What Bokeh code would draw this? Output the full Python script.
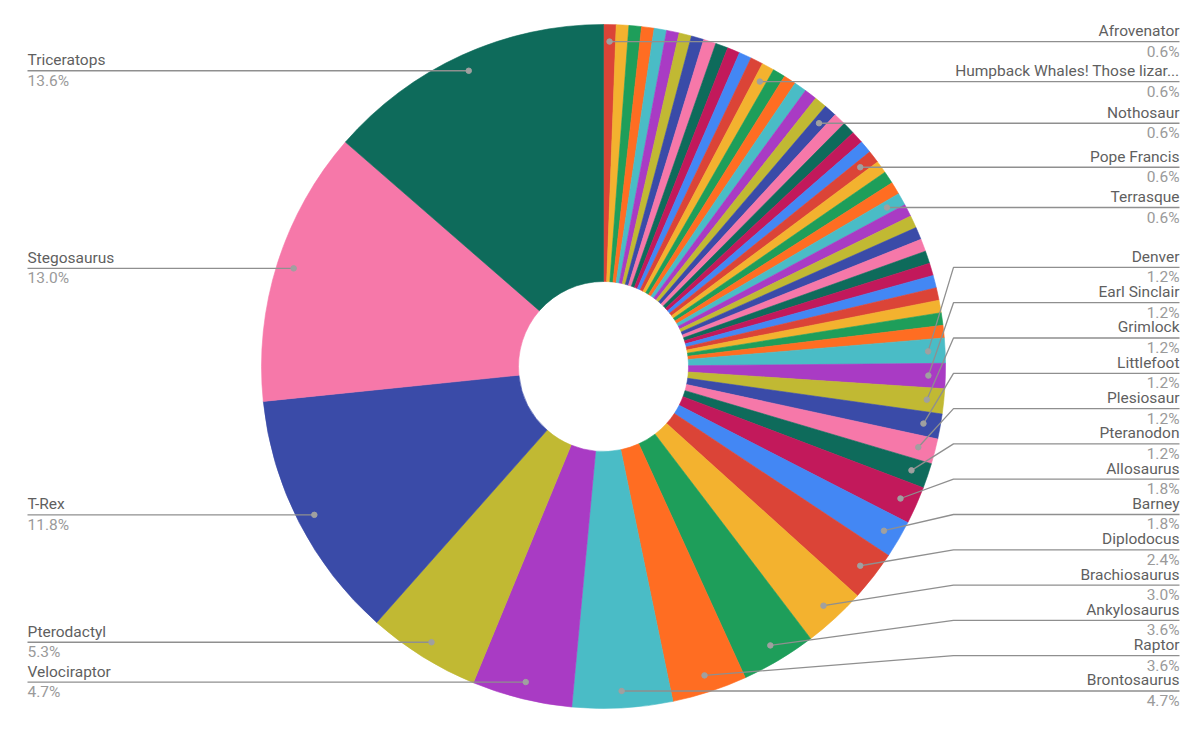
import math
from bokeh.plotting import figure
from bokeh.models import Range1d
from bokeh.embed import file_html
from bokeh.resources import INLINE
from bokeh.core.properties import value

# ---- data (sorted ascending, as in the chart) ----
names = [
    "Afrovenator", "Albertosaurus", "Amargasaurus", "Apatosaurus", "Archaeopteryx",
    "Baryonyx", "Carnotaurus", "Ceratosaurus", "Compsognathus", "Deinonychus",
    "Dilophosaurus", "Gallimimus", "Godzilla",
    "Humpback Whales! Those lizar...",
    "Iguanodon", "Kentrosaurus", "Megalosaurus", "Microraptor", "Mosasaurus",
    "Nothosaur",
    "Oviraptor", "Pachycephalosaurus", "Parasaurolophus", "Plateosaurus",
    "Pope Francis",
    "Protoceratops", "Quetzalcoatlus", "Spinosaurus",
    "Terrasque",
    "Therizinosaurus", "Thescelosaurus", "Titanosaur", "Torosaurus", "Troodon",
    "Tsintaosaurus", "Utahraptor", "Xenoceratops", "Yoshi", "Yutyrannus", "Zuniceratops",
    "Denver", "Earl Sinclair", "Grimlock", "Littlefoot", "Plesiosaur", "Pteranodon",
    "Allosaurus", "Barney", "Diplodocus", "Brachiosaurus", "Ankylosaurus", "Raptor",
    "Brontosaurus", "Velociraptor", "Pterodactyl", "T-Rex", "Stegosaurus", "Triceratops",
]
counts = [1] * 40 + [2] * 6 + [3, 3, 4, 5, 6, 6, 8, 8, 9, 20, 22, 23]

# labels that the chart actually shows
shown = [
    "Afrovenator", "Humpback Whales! Those lizar...", "Nothosaur", "Pope Francis", "Terrasque",
    "Denver", "Earl Sinclair", "Grimlock", "Littlefoot", "Plesiosaur", "Pteranodon",
    "Allosaurus", "Barney", "Diplodocus", "Brachiosaurus", "Ankylosaurus", "Raptor",
    "Brontosaurus", "Velociraptor", "Pterodactyl", "T-Rex", "Stegosaurus", "Triceratops",
]

palette = ["#4387F4", "#DB4437", "#F3B22F", "#1E9E5A", "#FF6D22", "#4ABCC6",
           "#A93BC4", "#C1B933", "#3A4BA8", "#F678A9", "#0E6B5B", "#C2195B"]

# ---- layout (pixel coordinates of the 1200x734 picture) ----
CX, CY = 603.0, 366.0
R_OUT, R_IN, R_DOT = 342.0, 85.0, 325.0
LEFT_X, RIGHT_X = 27.0, 1179.0
BEND_X = CX + R_OUT + 8
GAP = 35.3
NAME_COL, PCT_COL, LINE_COL = "#5F5F5F", "#9A9A9A", "#8F8F8F"
FONT = "Roboto"
FS = "15.5px"

W, H = 1184, 718
p = figure(width=W, height=H, x_range=Range1d(0, W), y_range=Range1d(-H, 0),
           output_backend="svg", toolbar_location=None, min_border=0,
           x_axis_location=None, y_axis_location=None)
p.grid.visible = False
p.outline_line_color = None
p.background_fill_color = "white"
p.border_fill_color = "white"

total = float(sum(counts))
starts, ends, colors, mids = [], [], [], []
cum = 0
for i, c in enumerate(counts):
    a0 = 2 * math.pi * cum / total
    a1 = 2 * math.pi * (cum + c) / total
    starts.append(math.pi / 2 - a0)
    ends.append(math.pi / 2 - a1)
    mids.append((a0 + a1) / 2)
    colors.append(palette[(i + 1) % len(palette)])
    cum += c

p.annular_wedge(x=CX, y=-CY, inner_radius=R_IN, outer_radius=R_OUT,
                start_angle=starts, end_angle=ends, direction="clock",
                fill_color=colors, line_color=colors, line_width=0.6)

# ---- labels ----
right, left = [], []
for i, n in enumerate(names):
    if n not in shown:
        continue
    m = mids[i]
    dx = CX + R_DOT * math.sin(m)
    dy = CY - R_DOT * math.cos(m)
    pct = "%.1f%%" % (100.0 * counts[i] / total)
    item = dict(name=n, pct=pct, dx=dx, dy=dy, ly=dy)
    (left if m > math.pi else right).append(item)

# right side: stack upward from the bottom
right.sort(key=lambda d: d["dy"])
for k in range(len(right) - 2, -1, -1):
    right[k]["ly"] = min(right[k]["dy"], right[k + 1]["ly"] - GAP)

xs, ys = [], []
for d in right:
    xs.append([d["dx"], BEND_X, RIGHT_X])
    ys.append([-d["dy"], -d["ly"], -d["ly"]])
for d in left:
    xs.append([d["dx"], LEFT_X])
    ys.append([-d["dy"], -d["ly"]])
p.multi_line(xs=xs, ys=ys, line_color=LINE_COL, line_width=1.3)

alld = right + left
p.scatter(x=[d["dx"] for d in alld], y=[-d["dy"] for d in alld], size=5.5,
          fill_color="#A0A0A0", line_color="#A0A0A0")

for side, xpos, align in ((right, RIGHT_X, "right"), (left, LEFT_X, "left")):
    p.text(x=[xpos] * len(side), y=[-(d["ly"] - 10.5) for d in side],
           text=[d["name"] for d in side], text_align=align, text_baseline="alphabetic",
           text_font=value(FONT), text_font_size=FS, text_color=NAME_COL)
    p.text(x=[xpos] * len(side), y=[-(d["ly"] + 10) for d in side],
           text=[d["pct"] for d in side], text_align=align, text_baseline="alphabetic",
           text_font=value(FONT), text_font_size=FS, text_color=PCT_COL)

open("out.html", "w").write(file_html(p, INLINE))
